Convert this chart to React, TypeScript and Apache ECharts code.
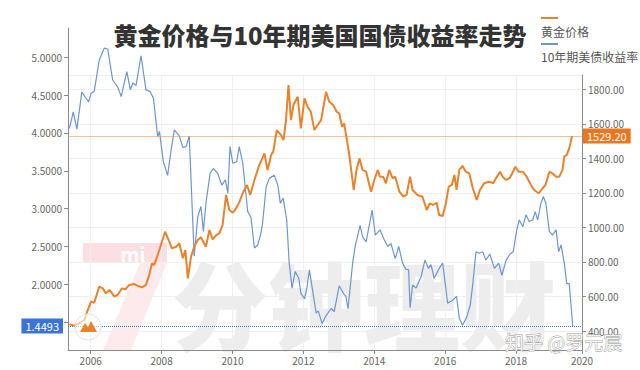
import React, { useEffect, useRef } from "react";
import * as echarts from "echarts";

// 10-year US Treasury yield (%), decimal year positions
const yieldYears = [
  2005.40, 2005.51, 2005.61, 2005.75, 2005.94, 2006.01, 2006.10, 2006.24, 2006.38, 2006.48,
  2006.62, 2006.76, 2006.86, 2007.02, 2007.12, 2007.19, 2007.28, 2007.42, 2007.56, 2007.67,
  2007.77, 2007.89, 2007.94, 2008.05, 2008.17, 2008.27, 2008.36, 2008.50, 2008.60, 2008.69,
  2008.78, 2008.92, 2009.02, 2009.11, 2009.18, 2009.25, 2009.37, 2009.46, 2009.58, 2009.70,
  2009.80, 2009.87, 2009.93, 2010.01, 2010.12, 2010.19, 2010.29, 2010.43, 2010.52, 2010.62,
  2010.71, 2010.80, 2010.85, 2010.95, 2011.04, 2011.18, 2011.28, 2011.35, 2011.43, 2011.53,
  2011.60, 2011.68, 2011.77, 2011.87, 2011.93, 2012.03, 2012.09, 2012.17, 2012.26, 2012.36,
  2012.42, 2012.53, 2012.62, 2012.78, 2012.87, 2013.01, 2013.13, 2013.20, 2013.26, 2013.39,
  2013.46, 2013.60, 2013.67, 2013.77, 2013.94, 2014.03, 2014.16, 2014.28, 2014.38, 2014.47,
  2014.59, 2014.69, 2014.80, 2014.89, 2014.97, 2015.01, 2015.08, 2015.18, 2015.32, 2015.43,
  2015.53, 2015.60, 2015.69, 2015.83, 2015.93, 2016.07, 2016.21, 2016.32, 2016.40, 2016.49,
  2016.61, 2016.71, 2016.78, 2016.87, 2016.96, 2017.06, 2017.15, 2017.26, 2017.39, 2017.51,
  2017.60, 2017.72, 2017.83, 2017.92, 2018.02, 2018.09, 2018.19, 2018.28, 2018.37, 2018.47,
  2018.54, 2018.61, 2018.70, 2018.77, 2018.84, 2018.94, 2019.03, 2019.13, 2019.20, 2019.27,
  2019.36, 2019.43, 2019.50, 2019.60,
];
const yieldValues = [
  4.06, 4.28, 4.05, 4.54, 4.41, 4.52, 4.55, 4.96, 5.12, 5.11,
  4.70, 4.61, 4.48, 4.81, 4.57, 4.66, 4.63, 5.02, 4.57, 4.55,
  4.46, 3.95, 4.02, 3.62, 3.44, 3.78, 4.04, 3.96, 3.81, 3.82,
  3.96, 2.37, 2.89, 3.03, 2.70, 3.07, 3.47, 3.53, 3.47, 3.31,
  3.38, 3.20, 3.82, 3.60, 3.62, 3.82, 3.60, 2.96, 2.89, 2.48,
  2.52, 2.67, 2.81, 3.29, 3.40, 3.44, 3.31, 3.07, 3.14, 2.85,
  2.28, 1.95, 2.17, 2.08, 1.88, 1.81, 1.92, 2.19, 1.92, 1.62,
  1.65, 1.48, 1.57, 1.68, 1.64, 1.98, 1.88, 1.84, 1.68, 2.28,
  2.50, 2.78, 2.63, 2.56, 2.98, 2.65, 2.72, 2.59, 2.50, 2.54,
  2.34, 2.50, 2.28, 2.20, 2.19, 1.69, 1.99, 1.95, 2.10, 2.32,
  2.21, 2.26, 2.08, 2.21, 2.28, 1.75, 1.79, 1.84, 1.55, 1.46,
  1.57, 1.73, 2.01, 2.43, 2.41, 2.43, 2.32, 2.40, 2.21, 2.28,
  2.12, 2.32, 2.40, 2.43, 2.72, 2.85, 2.76, 2.92, 2.83, 2.85,
  2.96, 2.85, 3.07, 3.16, 3.07, 2.70, 2.65, 2.72, 2.43, 2.52,
  2.28, 2.01, 2.01, 1.4493,
];

// Gold price (USD/oz), decimal year positions
const goldYears = [
  2005.40, 2005.54, 2005.68, 2005.82, 2005.92, 2006.01, 2006.10, 2006.24, 2006.34, 2006.43,
  2006.53, 2006.67, 2006.76, 2006.88, 2006.98, 2007.09, 2007.23, 2007.33, 2007.45, 2007.56,
  2007.65, 2007.73, 2007.79, 2007.92, 2007.98, 2008.10, 2008.20, 2008.29, 2008.41, 2008.50,
  2008.60, 2008.67, 2008.74, 2008.83, 2008.92, 2009.02, 2009.11, 2009.25, 2009.35, 2009.44,
  2009.54, 2009.63, 2009.72, 2009.82, 2009.91, 2010.01, 2010.10, 2010.19, 2010.29, 2010.41,
  2010.50, 2010.62, 2010.74, 2010.90, 2010.99, 2011.09, 2011.15, 2011.25, 2011.37, 2011.44,
  2011.51, 2011.58, 2011.65, 2011.72, 2011.84, 2011.93, 2012.03, 2012.12, 2012.21, 2012.31,
  2012.40, 2012.50, 2012.64, 2012.73, 2012.84, 2012.94, 2013.01, 2013.09, 2013.15, 2013.29,
  2013.42, 2013.50, 2013.58, 2013.67, 2013.77, 2013.91, 2014.00, 2014.10, 2014.16, 2014.25,
  2014.33, 2014.42, 2014.52, 2014.59, 2014.71, 2014.82, 2014.91, 2015.01, 2015.08, 2015.22,
  2015.36, 2015.48, 2015.57, 2015.66, 2015.76, 2015.83, 2015.93, 2016.02, 2016.10, 2016.19,
  2016.26, 2016.32, 2016.40, 2016.49, 2016.58, 2016.68, 2016.78, 2016.89, 2016.98, 2017.10,
  2017.24, 2017.36, 2017.43, 2017.55, 2017.62, 2017.72, 2017.81, 2017.89, 2017.98, 2018.07,
  2018.19, 2018.30, 2018.42, 2018.51, 2018.64, 2018.75, 2018.83, 2018.94, 2019.03, 2019.13,
  2019.22, 2019.31, 2019.36, 2019.43, 2019.50, 2019.58,
];
const goldPrices = [
  439, 431, 445, 464, 522, 570, 564, 657, 647, 618,
  638, 599, 609, 647, 642, 667, 672, 661, 653, 667,
  724, 792, 782, 859, 898, 975, 927, 879, 888, 908,
  821, 869, 705, 830, 888, 927, 943, 888, 985, 931,
  956, 966, 1014, 1188, 1101, 1085, 1110, 1145, 1198, 1246,
  1188, 1275, 1352, 1429, 1333, 1419, 1439, 1564, 1535, 1506,
  1622, 1825, 1622, 1709, 1757, 1574, 1748, 1699, 1670, 1564,
  1593, 1622, 1786, 1728, 1709, 1670, 1661, 1583, 1603, 1429,
  1217, 1333, 1400, 1333, 1323, 1207, 1275, 1333, 1294, 1294,
  1256, 1333, 1284, 1294, 1207, 1178, 1188, 1294, 1217, 1188,
  1178, 1101, 1140, 1130, 1143, 1072, 1066, 1140, 1236, 1246,
  1304, 1217, 1333, 1356, 1323, 1313, 1227, 1159, 1217, 1256,
  1265, 1256, 1284, 1323, 1294, 1275, 1284, 1313, 1352, 1323,
  1323, 1294, 1246, 1217, 1198, 1227, 1246, 1323, 1313, 1294,
  1294, 1333, 1410, 1420, 1458, 1529.2,
];

const latestYield = 1.4493;
const latestGold = 1529.2;

const TITLE = "黄金价格与10年期美国国债收益率走势";
const LEGEND_GOLD = "黄金价格";
const LEGEND_YIELD = "10年期美债收益率";
const WATERMARK = "分钟理财";
const CREDIT = "知乎 @罗元宸";

const GOLD_COLOR = "#E8822C";
const YIELD_COLOR = "#6F95CF";
const FONT = '"Noto Sans CJK SC", "Noto Sans", sans-serif';

export default function App() {
  const ref = useRef<HTMLDivElement>(null);

  useEffect(() => {
    if (!ref.current) return;
    const chart = echarts.init(ref.current, undefined, { renderer: "svg" });

    const yieldData = yieldYears.map((y, i) => [y, yieldValues[i]]);
    const goldData = goldYears.map((y, i) => [y, goldPrices[i]]);

    const xMin = 2005.36;
    const xMax = 2019.86;

    const option: any = {
      animation: false,
      backgroundColor: "#ffffff",
      textStyle: { fontFamily: FONT },
      grid: [
        { left: 68, top: 28, width: 514, height: 322, containLabel: false },
        { left: 68, top: 75, width: 514, height: 275, containLabel: false },
      ],
      xAxis: [
        {
          type: "value",
          gridIndex: 0,
          min: xMin,
          max: xMax,
          splitNumber: 7,
          minInterval: 2,
          maxInterval: 2,
          axisLine: { show: true, lineStyle: { color: "#8a8a8a", width: 1 } },
          axisTick: { show: true, length: 4, lineStyle: { color: "#8a8a8a" } },
          axisLabel: {
            color: "#666",
            fontSize: 10,
            margin: 5,
            showMinLabel: false,
            showMaxLabel: true,
            formatter: (v: number) => String(Math.round(v)),
          },
          splitLine: { show: false },
        },
        {
          type: "value",
          gridIndex: 1,
          min: xMin,
          max: xMax,
          splitNumber: 7,
          minInterval: 2,
          maxInterval: 2,
          axisLine: { show: false },
          axisTick: { show: false },
          axisLabel: { show: false },
          splitLine: { show: true, lineStyle: { color: "#efefef", width: 1 } },
        },
      ],
      yAxis: [
        {
          type: "value",
          gridIndex: 0,
          position: "left",
          min: 1.132,
          max: 5.387,
          splitNumber: 8,
          minInterval: 0.5,
          maxInterval: 0.5,
          axisLine: { show: true, lineStyle: { color: "#8a8a8a", width: 1 } },
          axisTick: { show: true, length: 4, lineStyle: { color: "#8a8a8a" } },
          axisLabel: {
            color: "#666",
            fontSize: 10,
            margin: 6,
            showMinLabel: false,
            showMaxLabel: false,
            formatter: (v: number) => v.toFixed(4),
          },
          splitLine: { show: false },
        },
        {
          type: "value",
          gridIndex: 1,
          position: "right",
          min: 290,
          max: 1883,
          splitNumber: 8,
          minInterval: 200,
          maxInterval: 200,
          axisLine: { show: true, lineStyle: { color: "#8a8a8a", width: 1 } },
          axisTick: { show: true, length: 4, lineStyle: { color: "#8a8a8a" } },
          axisLabel: {
            color: "#666",
            fontSize: 10,
            margin: 6,
            showMinLabel: false,
            showMaxLabel: false,
            formatter: (v: number) => v.toFixed(2),
          },
          splitLine: { show: true, lineStyle: { color: "#efefef", width: 1 } },
        },
      ],
      series: [
        {
          name: LEGEND_YIELD,
          type: "line",
          xAxisIndex: 0,
          yAxisIndex: 0,
          data: yieldData,
          showSymbol: false,
          symbol: "none",
          lineStyle: { color: YIELD_COLOR, width: 1.2 },
          itemStyle: { color: YIELD_COLOR },
          z: 3,
          markLine: {
            silent: true,
            symbol: ["none", "none"],
            lineStyle: { type: "dotted", color: "#3F73C8", width: 1 },
            label: {
              show: true,
              position: "start",
              distance: 5,
              formatter: latestYield.toFixed(4),
              color: "#fff",
              fontSize: 11,
              backgroundColor: "#3B74D3",
              padding: [2, 4, 2, 4],
            },
            data: [{ yAxis: latestYield }],
          },
        },
        {
          name: LEGEND_GOLD,
          type: "line",
          xAxisIndex: 1,
          yAxisIndex: 1,
          data: goldData,
          showSymbol: false,
          symbol: "none",
          lineStyle: { color: GOLD_COLOR, width: 2 },
          itemStyle: { color: GOLD_COLOR },
          z: 4,
          markLine: {
            silent: true,
            symbol: ["none", "none"],
            lineStyle: { type: "solid", color: "rgba(236,140,60,0.55)", width: 1 },
            label: {
              show: true,
              position: "end",
              distance: 1,
              formatter: latestGold.toFixed(2),
              color: "#fff",
              fontSize: 11,
              backgroundColor: "#E8771E",
              padding: [2, 4, 2, 4],
            },
            data: [{ yAxis: latestGold }],
          },
        },
      ],
      graphic: [
        // watermark "7" logo
        {
          type: "rect",
          z: -10,
          silent: true,
          shape: { x: 83, y: 243, width: 84, height: 20 },
          style: { fill: "rgba(235,80,100,0.18)" },
        },
        {
          type: "text",
          z: -9,
          silent: true,
          x: 133,
          y: 253,
          style: {
            text: "mi",
            fill: "rgba(255,255,255,0.95)",
            font: "bold 20px " + FONT,
            align: "center",
            verticalAlign: "middle",
          },
        },
        {
          type: "polygon",
          z: -10,
          silent: true,
          shape: { points: [[140, 263], [167, 263], [131, 350], [103, 350]] },
          style: { fill: "rgba(235,80,100,0.12)" },
        },
        {
          type: "text",
          z: -10,
          silent: true,
          x: 172,
          y: 349,
          style: {
            text: WATERMARK,
            fill: "rgba(0,0,0,0.07)",
            font: "900 96px " + FONT,
            align: "left",
            verticalAlign: "bottom",
            lineHeight: 96,
          },
        },
        // small round logo
        {
          type: "circle",
          z: 10,
          silent: true,
          shape: { cx: 88, cy: 327, r: 13 },
          style: { fill: "rgba(255,255,255,0.6)", stroke: "#e2e2e2", lineWidth: 1 },
        },
        {
          type: "polygon",
          z: 11,
          silent: true,
          shape: { points: [[80, 332], [85, 323], [88, 327], [91, 321], [97, 332]] },
          style: { fill: "#E8822C" },
        },
        // title
        {
          type: "text",
          x: 320,
          y: 34,
          style: {
            text: TITLE,
            fill: "#333",
            font: "900 24px " + FONT,
            align: "center",
            verticalAlign: "middle",
          },
        },
        // legend
        {
          type: "line",
          shape: { x1: 541, y1: 18, x2: 558, y2: 18 },
          style: { stroke: GOLD_COLOR, lineWidth: 2 },
        },
        {
          type: "text",
          x: 541,
          y: 31,
          style: {
            text: LEGEND_GOLD,
            fill: "#555",
            font: "12px " + FONT,
            align: "left",
            verticalAlign: "middle",
          },
        },
        {
          type: "line",
          shape: { x1: 541, y1: 44, x2: 558, y2: 44 },
          style: { stroke: YIELD_COLOR, lineWidth: 2 },
        },
        {
          type: "text",
          x: 541,
          y: 56,
          style: {
            text: LEGEND_YIELD,
            fill: "#555",
            font: "12px " + FONT,
            align: "left",
            verticalAlign: "middle",
          },
        },
        // Zhihu watermark
        {
          type: "text",
          z: 20,
          silent: true,
          x: 505,
          y: 341,
          style: {
            text: CREDIT,
            fill: "rgba(255,255,255,0.85)",
            stroke: "#9a9a9a",
            lineWidth: 0.8,
            font: "19px " + FONT,
            align: "left",
            verticalAlign: "middle",
          },
        },
      ],
    };

    chart.setOption(option);
    return () => {
      chart.dispose();
    };
  }, []);

  return (
    <div
      ref={ref}
      style={{ position: "fixed", left: 0, top: 0, width: 640, height: 370 }}
    />
  );
}
